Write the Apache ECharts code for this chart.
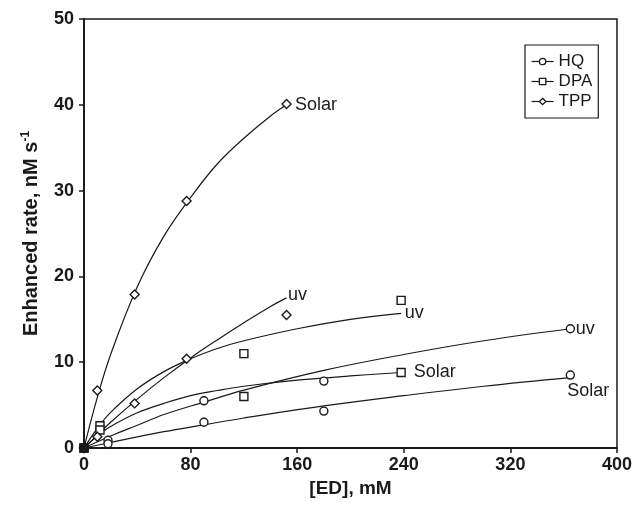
<!DOCTYPE html>
<html>
<head>
<meta charset="utf-8">
<script src="https://cdn.jsdelivr.net/npm/echarts@6/dist/echarts.min.js"></script>
<style>html,body{margin:0;padding:0;background:#fff}#c{width:635px;height:505px}</style>
</head>
<body>
<div id="c"></div>
<script>
// Measured data points
var hqED = [0, 18, 90, 180, 365];
var hqUV = [0, 0.9, 5.5, 7.8, 13.9];
var hqSolar = [0, 0.5, 3.0, 4.3, 8.5];
var dpaED = [0, 12, 120, 238];
var dpaUV = [0, 2.6, 11.0, 17.2];
var dpaSolar = [0, 2.1, 6.0, 8.8];
var tppED = [0, 10, 38, 77, 152];
var tppSolar = [0, 6.7, 17.9, 28.8, 40.1];
var tppUV = [0, 1.3, 5.2, 10.4, 15.5];

// Fitted curves
var tppFitED = [0, 10, 20, 40, 60, 80, 100, 120, 140, 152];
var tppSolarFit = [0, 5.9, 10.9, 18.8, 24.7, 29.2, 33.1, 36.1, 38.7, 40.0];
var tppUVFit = [0, 1.5, 3.0, 5.7, 8.2, 10.5, 12.6, 14.6, 16.5, 17.5];
var dpaFitED = [0, 10, 20, 40, 60, 80, 100, 120, 160, 200, 238];
var dpaUVFit = [0, 2.3, 4.15, 6.9, 8.9, 10.4, 11.6, 12.5, 13.9, 15.0, 15.7];
var dpaSolarFit = [0, 1.4, 2.5, 4.1, 5.2, 6.1, 6.7, 7.2, 7.9, 8.4, 8.8];
var hqFitED = [0, 20, 40, 60, 90, 120, 180, 240, 300, 365];
var hqUVFit = [0, 1.4, 2.65, 3.9, 5.35, 6.75, 9.05, 10.9, 12.5, 13.9];
var hqSolarFit = [0, 0.65, 1.3, 1.9, 2.7, 3.5, 4.9, 6.1, 7.2, 8.2];

var xTicks = [0, 80, 160, 240, 320, 400];
var yTicks = [0, 10, 20, 30, 40, 50];
var seriesNames = ['HQ', 'DPA', 'TPP'];

var FONT = '"Liberation Sans", Arial, Helvetica, sans-serif';
var INK = '#1a1a1a';

function pts(xs, ys) {
  return xs.map(function (x, i) {
    var d = { value: [x, ys[i]] };
    if (x === 0 && ys[i] === 0) d.itemStyle = { color: INK };
    return d;
  });
}
function fit(xs, ys, label, lbl) {
  var data = xs.map(function (x, i) { return [x, ys[i]]; });
  var last = data[data.length - 1];
  return {
    type: 'line', smooth: 0.4, data: data, symbol: 'none', showSymbol: false,
    lineStyle: { color: INK, width: 1.2 }, silent: true, z: 2,
    markPoint: {
      silent: true, animation: false,
      data: [{
        coord: last, symbol: 'circle', symbolSize: 1,
        itemStyle: { color: 'rgba(0,0,0,0)' },
        label: Object.assign({ show: true, formatter: label, color: INK, fontFamily: FONT, fontSize: 18 }, lbl)
      }]
    }
  };
}
function markers(name, symbol, xs, ysList) {
  var data = [];
  ysList.forEach(function (ys) { data = data.concat(pts(xs, ys)); });
  return {
    type: 'line', name: name, symbol: symbol, symbolSize: symbol === 'diamond' ? 9 : 8,
    showSymbol: true, data: data, z: 5,
    lineStyle: { width: 0, opacity: 0 },
    itemStyle: { color: '#fff', borderColor: INK, borderWidth: 1.4 }
  };
}

var chart = echarts.init(document.getElementById('c'));
chart.setOption({
  animation: false,
  backgroundColor: '#fff',
  grid: { left: 84, right: 13, top: 19, bottom: 57, show: true, borderColor: INK, borderWidth: 1.5 },
  legend: {
    data: seriesNames, orient: 'vertical', left: 525, top: 45,
    padding: [8, 6, 8, 6], itemGap: 3, itemWidth: 22, itemHeight: 8,
    borderColor: INK, borderWidth: 1.2,
    textStyle: { fontFamily: FONT, fontSize: 17, color: INK },
    lineStyle: { width: 1.2, opacity: 1, color: INK },
    itemStyle: { color: '#fff', borderColor: INK, borderWidth: 1.3 }
  },
  xAxis: {
    type: 'value', min: xTicks[0], max: xTicks[xTicks.length - 1], interval: 80,
    name: '[ED], mM', nameLocation: 'middle', nameGap: 28,
    nameTextStyle: { fontFamily: FONT, fontSize: 19, fontWeight: 'bold', color: INK },
    axisLine: { lineStyle: { color: INK, width: 2 } },
    axisTick: { show: true, length: 5, lineStyle: { color: INK, width: 1.5 } },
    axisLabel: { fontFamily: FONT, fontSize: 18, fontWeight: 'bold', color: INK, margin: 8 },
    splitLine: { show: false }
  },
  yAxis: {
    type: 'value', min: yTicks[0], max: yTicks[yTicks.length - 1], interval: 10,
    name: 'Enhanced rate, nM s{sup|-1}', nameLocation: 'middle', nameGap: 42,
    nameTextStyle: { fontFamily: FONT, fontSize: 20, fontWeight: 'bold', color: INK,
      rich: { sup: { fontFamily: FONT, fontSize: 12, fontWeight: 'bold', color: INK, verticalAlign: 'top', padding: [0, 0, 10, 0] } } },
    axisLine: { lineStyle: { color: INK, width: 2 } },
    axisTick: { show: true, length: 5, lineStyle: { color: INK, width: 1.5 } },
    axisLabel: { fontFamily: FONT, fontSize: 18, fontWeight: 'bold', color: INK, margin: 10 },
    splitLine: { show: false }
  },
  series: [
    fit(tppFitED, tppSolarFit, 'Solar', { position: 'right', distance: 8 }),
    fit(tppFitED, tppUVFit, 'uv', { position: 'right', distance: 1, offset: [0, -3] }),
    fit(dpaFitED, dpaUVFit, 'uv', { position: 'right', distance: 3 }),
    fit(dpaFitED, dpaSolarFit, 'Solar', { position: 'right', distance: 12 }),
    fit(hqFitED, hqUVFit, 'uv', { position: 'right', distance: 5 }),
    fit(hqFitED, hqSolarFit, 'Solar', { position: 'bottom', distance: 4, offset: [18, 0] }),
    markers('HQ', 'circle', hqED, [hqUV, hqSolar]),
    markers('DPA', 'rect', dpaED, [dpaUV, dpaSolar]),
    markers('TPP', 'diamond', tppED, [tppSolar, tppUV])
  ]
});
</script>
</body>
</html>
